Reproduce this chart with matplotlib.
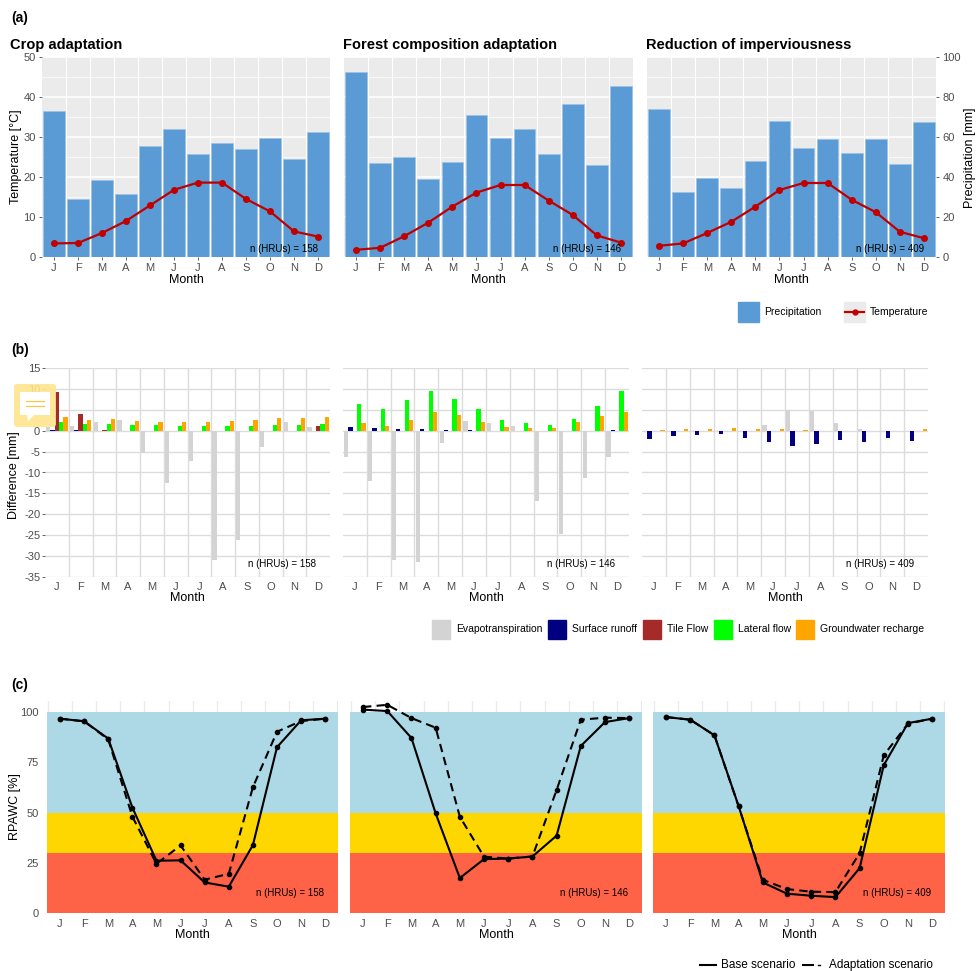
import numpy as np
import matplotlib
matplotlib.use("Agg")
import matplotlib.pyplot as plt
from matplotlib.patches import Rectangle, FancyBboxPatch, Polygon

plt.rcParams['font.family'] = ['Liberation Sans', 'DejaVu Sans']
plt.rcParams['axes.unicode_minus'] = False

# ---------------- data ----------------
months = ['J', 'F', 'M', 'A', 'M', 'J', 'J', 'A', 'S', 'O', 'N', 'D']
titles = ['Crop adaptation', 'Forest composition adaptation', 'Reduction of imperviousness']
n_hrus = [158, 146, 409]

# (a) climate
prec_crop = [73, 29, 38.4, 31.4, 55.6, 63.8, 51.6, 57, 53.8, 59.6, 48.8, 62.4]
temp_crop = [3.4, 3.5, 6.0, 9.0, 12.9, 16.8, 18.6, 18.6, 14.5, 11.4, 6.4, 5.1]
prec_forest = [92.4, 47, 50, 39, 47.6, 71, 59.6, 64, 51.6, 76.6, 46, 85.6]
temp_forest = [1.8, 2.3, 5.2, 8.6, 12.6, 16.1, 18.0, 18.0, 14.1, 10.5, 5.4, 3.6]
prec_imperv = [74, 32.5, 39.7, 34.7, 48.2, 68.2, 54.5, 59.2, 52.2, 59.2, 46.7, 67.7]
temp_imperv = [2.8, 3.4, 6.0, 8.8, 12.6, 16.75, 18.5, 18.5, 14.3, 11.2, 6.3, 4.7]

# (b) differences [mm]
comp_names = ['Evapotranspiration', 'Surface runoff', 'Tile Flow', 'Lateral flow', 'Groundwater recharge']
et_crop = [0.9, 1.2, 2.2, 2.6, -5.4, -12.5, -7.3, -30.9, -26.1, -3.8, 2.1, 0.9]
sr_crop = [0.2, 0.1, 0, 0, 0, 0, 0, 0, 0, 0, 0, 0]
tile_crop = [9.25, 4.0, 0.2, 0, 0, 0, 0, 0, 0, 0, 0, 1.2]
lat_crop = [2.0, 1.6, 1.6, 1.4, 1.4, 1.2, 1.2, 1.2, 1.2, 1.4, 1.4, 1.7]
gw_crop = [3.2, 2.6, 2.7, 2.4, 2.2, 2.1, 2.2, 2.4, 2.6, 3.0, 3.0, 3.2]

et_forest = [-6.4, -12.0, -30.9, -31.5, -3.0, 2.3, 1.85, 1.1, -16.8, -24.6, -11.3, -6.3]
sr_forest = [1.0, 0.65, 0.3, 0.3, 0.1, 0.1, 0, 0, 0, 0, 0, 0.2]
tile_forest = [0] * 12
lat_forest = [6.4, 5.2, 7.3, 9.5, 7.5, 5.2, 2.5, 1.8, 1.3, 2.7, 6.0, 9.5]
gw_forest = [1.85, 1.1, 2.6, 4.4, 3.7, 2.1, 1.0, 0.65, 0.55, 2.1, 3.5, 4.5]

et_imperv = [0, 0, 0, 0, 0, 1.45, 4.9, 4.7, 1.8, 0.3, 0, 0]
sr_imperv = [-2.0, -1.2, -1.0, -0.8, -1.85, -2.7, -3.6, -3.2, -2.3, -2.7, -1.7, -2.4]
tile_imperv = [0] * 12
lat_imperv = [0] * 12
gw_imperv = [0.2, 0.3, 0.3, 0.6, 0.5, 0.4, 0.1, 0, 0, 0, 0, 0.3]

# (c) RPAWC [%]
base_crop = [96.7, 95.4, 86.8, 52.5, 26.0, 26.2, 15.2, 13.1, 33.8, 82.5, 95.9, 96.7]
adapt_crop = [96.7, 95.4, 86.4, 48.0, 24.5, 33.6, 16.6, 19.5, 62.6, 90.2, 95.5, 96.7]
base_forest = [101.2, 100.5, 87.1, 49.6, 17.4, 26.8, 27.1, 28.1, 38.5, 83.1, 95.0, 97.0]
adapt_forest = [102.5, 103.6, 97.0, 92.2, 47.9, 28.0, 27.1, 28.1, 61.2, 96.2, 97.2, 97.0]
base_imperv = [97.5, 96.2, 88.4, 53.2, 15.2, 9.6, 8.6, 7.9, 22.3, 73.6, 94.5, 96.7]
adapt_imperv = [97.5, 96.2, 88.4, 53.0, 16.5, 11.9, 10.6, 10.4, 29.8, 78.5, 94.2, 96.7]

# ---------------- styling ----------------
W, H = 977, 971
fig = plt.figure(figsize=(W / 100, H / 100), dpi=100)
TICKC = '#4D4D4D'
PREC_C = '#5B9BD5'
TEMP_C = '#C00000'
comp_colors = ['#D3D3D3', '#000080', '#A52A2A', '#00FF00', '#FFA500']
TFS = 8
x = np.arange(1, 13)


def rect(x0, y0, x1, y1):
    return [x0 / W, 1 - y1 / H, (x1 - x0) / W, (y1 - y0) / H]


ov = fig.add_axes([0, 0, 1, 1], zorder=10)
ov.set_xlim(0, W)
ov.set_ylim(H, 0)
ov.axis('off')

# ---------------- (a) ----------------
a_boxes = [(42, 57, 330, 257), (344, 57, 633, 257), (647, 57, 936, 257)]
precs = [prec_crop, prec_forest, prec_imperv]
temps = [temp_crop, temp_forest, temp_imperv]
title_x = [10, 343, 646]
for i in range(3):
    x0, y0, x1, y1 = a_boxes[i]
    ax = fig.add_axes(rect(*a_boxes[i]))
    ax.set_facecolor('#EBEBEB')
    for s in ax.spines.values():
        s.set_visible(False)
    for v in range(0, 51, 10):
        ax.axhline(v, color='white', lw=1.1, zorder=0)
    for v in range(5, 50, 10):
        ax.axhline(v, color='white', lw=0.5, zorder=0)
    for v in np.arange(1.5, 12.5, 1):
        ax.axvline(v, color='white', lw=0.8, zorder=0)
    ax.bar(x, np.array(precs[i]) / 2.0, width=0.9, color=PREC_C, edgecolor='#9CC3E8',
           linewidth=0.4, zorder=2)
    ax.plot(x, temps[i], color=TEMP_C, lw=1.6, marker='o', ms=4, zorder=3)
    ax.set_xlim(0.5, 12.5)
    ax.set_ylim(0, 50)
    ax.set_xticks(x)
    ax.set_xticklabels(months)
    ax.tick_params(axis='both', labelsize=TFS, colors=TICKC, length=2.5, width=0.6, pad=2)
    if i == 0:
        ax.set_yticks(range(0, 51, 10))
    else:
        ax.set_yticks([])
    if i == 2:
        sec = ax.secondary_yaxis('right', functions=(lambda t: t * 2, lambda p: p / 2))
        sec.set_yticks(range(0, 101, 20))
        sec.tick_params(labelsize=TFS, colors=TICKC, length=2.5, width=0.6, pad=2)
        for s in sec.spines.values():
            s.set_visible(False)
    ov.text((x0 + x1) / 2, 280, 'Month', ha='center', va='center', fontsize=9)
    ov.text(x1 - 12, 249, 'n (HRUs) = %d' % n_hrus[i], ha='right', va='center', fontsize=7)
    ov.text(title_x[i], 45, titles[i], ha='left', va='center', fontsize=10.5, fontweight='bold')

ov.text(11, 18, '(a)', ha='left', va='center', fontsize=10, fontweight='bold')
ov.text(16, 157, 'Temperature [°C]', rotation=90, ha='center', va='center', fontsize=9)
ov.text(970, 158, 'Precipitation [mm]', rotation=90, ha='center', va='center', fontsize=9)

# legend (a)
ov.add_patch(Rectangle((738, 302), 21, 20, color=PREC_C))
ov.text(764, 312, 'Precipitation', ha='left', va='center', fontsize=7.5)
ov.add_patch(Rectangle((844, 302), 21, 20, color='#EBEBEB'))
ov.plot([845, 864], [312, 312], color=TEMP_C, lw=1.6)
ov.plot([854.5], [312], 'o', color=TEMP_C, ms=3.5)
ov.text(870, 312, 'Temperature', ha='left', va='center', fontsize=7.5)

# ---------------- (b) ----------------
b_boxes = [(45, 368, 330, 577), (343, 368, 629, 577), (642, 368, 928, 577)]
comps = [
    [et_crop, sr_crop, tile_crop, lat_crop, gw_crop],
    [et_forest, sr_forest, tile_forest, lat_forest, gw_forest],
    [et_imperv, sr_imperv, tile_imperv, lat_imperv, gw_imperv],
]
bw = 0.18
for i in range(3):
    x0, y0, x1, y1 = b_boxes[i]
    ax = fig.add_axes(rect(*b_boxes[i]))
    ax.set_facecolor('white')
    for s in ax.spines.values():
        s.set_visible(False)
    for v in range(-35, 16, 5):
        ax.axhline(v, color='#DCDCDC', lw=1.0, zorder=0)
    for v in np.arange(1.5, 12.5, 1):
        ax.axvline(v, color='#DCDCDC', lw=1.0, zorder=0)
    for k in range(5):
        ax.bar(x + (k - 2) * bw, comps[i][k], width=bw, color=comp_colors[k], zorder=2)
    ax.set_xlim(0.5, 12.5)
    ax.set_ylim(-35, 15)
    ax.set_xticks(x)
    ax.set_xticklabels(months)
    ax.tick_params(axis='x', length=0, pad=3.5, labelsize=TFS, colors=TICKC)
    if i == 0:
        ax.set_yticks(range(-35, 16, 5))
        ax.tick_params(axis='y', labelsize=TFS, colors=TICKC, length=2, width=0.6, pad=1.5)
    else:
        ax.set_yticks([])
    ov.text((x0 + x1) / 2, 598, 'Month', ha='center', va='center', fontsize=9)
    ov.text(x1 - 14, 564, 'n (HRUs) = %d' % n_hrus[i], ha='right', va='center', fontsize=7)

ov.text(11, 350, '(b)', ha='left', va='center', fontsize=10, fontweight='bold')
ov.text(14, 475, 'Difference [mm]', rotation=90, ha='center', va='center', fontsize=9)

leg_box_x = [432, 548, 643, 714, 796]
for k in range(5):
    ov.add_patch(Rectangle((leg_box_x[k], 620), 18, 19, color=comp_colors[k]))
    ov.text(leg_box_x[k] + 24, 629.5, comp_names[k], ha='left', va='center', fontsize=7.5)

# comment icon overlay
ov.add_patch(FancyBboxPatch((14, 384), 42, 43, boxstyle='round,pad=0,rounding_size=3',
                            facecolor='#FFE58F', edgecolor='none', alpha=0.9))
ov.add_patch(Rectangle((20, 392), 30, 23, facecolor='white', edgecolor='none'))
ov.add_patch(Polygon([[27, 414], [35, 414], [28, 421]], closed=True, facecolor='white', edgecolor='none'))
ov.plot([26, 44], [401, 401], color='#F2C94C', lw=0.9)
ov.plot([26, 44], [406, 406], color='#F2C94C', lw=0.9)

# ---------------- (c) ----------------
c_boxes = [(47, 701, 338, 913), (350, 701, 642, 913), (653, 701, 945, 913)]
bases = [base_crop, base_forest, base_imperv]
adapts = [adapt_crop, adapt_forest, adapt_imperv]
for i in range(3):
    x0, y0, x1, y1 = c_boxes[i]
    ax = fig.add_axes(rect(*c_boxes[i]))
    ax.set_facecolor('white')
    for s in ax.spines.values():
        s.set_visible(False)
    for v in np.arange(0.5, 13, 1):
        ax.axvline(v, color='#EBEBEB', lw=1.0, zorder=0)
    ax.axhspan(0, 30, color='#FF6347', zorder=1, lw=0)
    ax.axhspan(30, 50, color='#FFD700', zorder=1, lw=0)
    ax.axhspan(50, 100, color='#ADD8E6', zorder=1, lw=0)
    ax.plot(x, bases[i], color='black', lw=1.5, marker='o', ms=3, zorder=3)
    ax.plot(x, adapts[i], color='black', lw=1.5, ls=(0, (4, 2.5)), marker='o', ms=3, zorder=3)
    ax.set_xlim(0.46, 12.53)
    ax.set_ylim(0, 105.5)
    ax.set_xticks(x)
    ax.set_xticklabels(months)
    ax.tick_params(axis='x', length=0, pad=4, labelsize=TFS, colors=TICKC)
    if i == 0:
        ax.set_yticks([0, 25, 50, 75, 100])
        ax.tick_params(axis='y', labelsize=TFS, colors=TICKC, length=0, pad=6)
    else:
        ax.set_yticks([])
    ov.text((x0 + x1) / 2, 935, 'Month', ha='center', va='center', fontsize=9)
    ov.text(x1 - 14, 893, 'n (HRUs) = %d' % n_hrus[i], ha='right', va='center', fontsize=7)

ov.text(11, 685, '(c)', ha='left', va='center', fontsize=10, fontweight='bold')
ov.text(15, 807, 'RPAWC [%]', rotation=90, ha='center', va='center', fontsize=9)

# legend (c)
ov.plot([700, 716], [965, 965], color='black', lw=1.5)
ov.text(721, 965, 'Base scenario', ha='left', va='center', fontsize=8.5)
ov.plot([803, 813], [965, 965], color='black', lw=1.5)
ov.plot([818, 819.5], [965, 965], color='black', lw=1.0)
ov.text(829, 965, 'Adaptation scenario', ha='left', va='center', fontsize=8.5)

fig.savefig('out.png', dpi=100)
